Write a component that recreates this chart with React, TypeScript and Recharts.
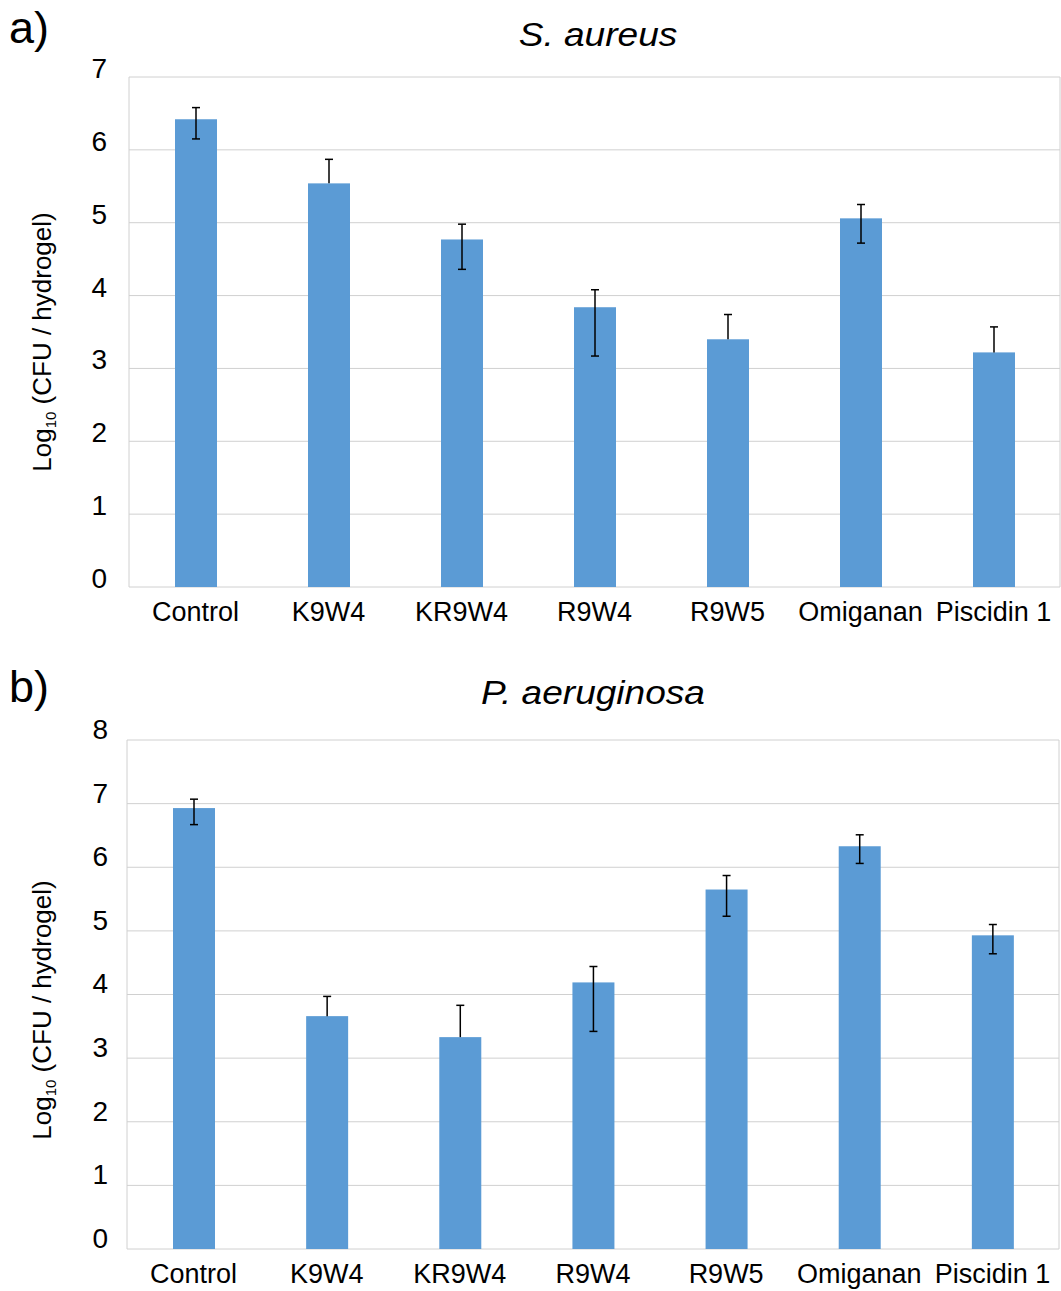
import React from 'react';
import { BarChart, Bar, XAxis, YAxis, CartesianGrid, Label } from 'recharts';

const CATEGORIES = ['Control', 'K9W4', 'KR9W4', 'R9W4', 'R9W5', 'Omiganan', 'Piscidin 1'];

// S. aureus, log10 CFU per hydrogel
const AUREUS_MEAN = [6.42, 5.54, 4.77, 3.84, 3.4, 5.06, 3.22];
const AUREUS_ERR_UP = [0.16, 0.33, 0.21, 0.24, 0.34, 0.19, 0.35];
const AUREUS_ERR_DOWN = [0.27, 0, 0.41, 0.67, 0, 0.34, 0];
const AUREUS_TICKS = [0, 1, 2, 3, 4, 5, 6, 7];

// P. aeruginosa
const AERUG_MEAN = [6.93, 3.66, 3.33, 4.19, 5.65, 6.33, 4.93];
const AERUG_ERR_UP = [0.14, 0.31, 0.5, 0.25, 0.22, 0.18, 0.17];
const AERUG_ERR_DOWN = [0.26, 0, 0, 0.77, 0.42, 0.27, 0.29];
const AERUG_TICKS = [0, 1, 2, 3, 4, 5, 6, 7, 8];

const BLUE = '#5B9BD5';
const GRID = '#d0d0d0';
const FONT = '"Liberation Sans", Arial, sans-serif';

const buildRows = (mean: number[], up: number[], down: number[]) =>
  CATEGORIES.map((name, i) => ({ name, mean: mean[i], up: up[i], down: down[i] }));

// bar rect plus its error whisker, scaled from the bar's own pixel height
const BarWithError = (props: any) => {
  const { x, y, width, height, payload, fill } = props;
  const k = payload.mean ? height / payload.mean : 0;
  const cx = x + width / 2;
  const yTop = y - payload.up * k;
  const yBot = y + payload.down * k;
  const cap = 4;
  return (
    <g>
      <rect x={x} y={y} width={width} height={height} fill={fill} />
      <line x1={cx} x2={cx} y1={yTop} y2={yBot} stroke="#000" strokeWidth={1.5} />
      <line x1={cx - cap} x2={cx + cap} y1={yTop} y2={yTop} stroke="#000" strokeWidth={1.5} />
      {payload.down > 0 && (
        <line x1={cx - cap} x2={cx + cap} y1={yBot} y2={yBot} stroke="#000" strokeWidth={1.5} />
      )}
    </g>
  );
};

const yTitle = (cy: number) => () => (
  <text
    x={51}
    y={cy}
    transform={`rotate(-90 51 ${cy})`}
    textAnchor="middle"
    fontSize={26}
    fill="#000"
    fontFamily={FONT}
  >
    Log
    <tspan fontSize={15} dy={5}>10</tspan>
    <tspan dy={-5}> (CFU / hydrogel)</tspan>
  </text>
);

interface PanelProps {
  data: any[];
  ticks: number[];
  height: number;
  top: number;
  axisW: number;
  xAxisH: number;
  right: number;
  tickDy: number;
  xTickMargin: number;
  yTickMargin: number;
  labelY: number;
}

const Panel = ({ data, ticks, height, top, axisW, xAxisH, right, tickDy, xTickMargin, yTickMargin, labelY }: PanelProps) => (
  <BarChart
    width={1061}
    height={height}
    data={data}
    margin={{ top, right, left: 0, bottom: 0 }}
    style={{ fontFamily: FONT }}
  >
    <CartesianGrid
      stroke={GRID}
      horizontal
      vertical
      verticalCoordinatesGenerator={({ offset }: any) => [offset.left, offset.left + offset.width]}
    />
    <XAxis
      dataKey="name"
      interval={0}
      axisLine={false}
      tickLine={false}
      tickSize={0}
      tickMargin={xTickMargin}
      height={xAxisH}
      tick={{ fontSize: 27, fill: '#000' }}
    />
    <YAxis
      domain={[0, ticks[ticks.length - 1]]}
      ticks={ticks}
      width={axisW}
      axisLine={false}
      tickLine={false}
      tickSize={0}
      tickMargin={yTickMargin}
      tick={{ fontSize: 28, fill: '#000', dy: tickDy }}
    >
      <Label content={yTitle(labelY)} />
    </YAxis>
    <Bar dataKey="mean" fill={BLUE} barSize={42} isAnimationActive={false} shape={BarWithError} />
  </BarChart>
);

export default function App() {
  const aureus = buildRows(AUREUS_MEAN, AUREUS_ERR_UP, AUREUS_ERR_DOWN);
  const aerug = buildRows(AERUG_MEAN, AERUG_ERR_UP, AERUG_ERR_DOWN);

  const titleStyle: React.CSSProperties = {
    position: 'absolute',
    width: 600,
    textAlign: 'center',
    fontSize: 34,
    lineHeight: '34px',
    fontStyle: 'italic',
    fontFamily: FONT,
    color: '#000',
    transform: 'scaleX(1.09)',
    transformOrigin: 'center',
  };
  const letterStyle: React.CSSProperties = {
    position: 'absolute',
    left: 9,
    fontSize: 45,
    lineHeight: '45px',
    fontFamily: FONT,
    color: '#000',
  };

  return (
    <div style={{ position: 'absolute', left: 0, top: 0, width: 1061, height: 1291, background: '#fff', overflow: 'hidden' }}>
      <div style={{ position: 'absolute', left: 0, top: 0 }}>
        <Panel
          data={aureus}
          ticks={AUREUS_TICKS}
          height={640}
          top={77}
          axisW={129}
          xAxisH={53}
          right={1}
          tickDy={-9}
          xTickMargin={15}
          yTickMargin={22}
          labelY={342}
        />
      </div>
      <div style={{ position: 'absolute', left: 0, top: 660 }}>
        <Panel
          data={aerug}
          ticks={AERUG_TICKS}
          height={631}
          top={80}
          axisW={127}
          xAxisH={42}
          right={2}
          tickDy={-11}
          xTickMargin={15}
          yTickMargin={19}
          labelY={350}
        />
      </div>
      <div style={{ ...letterStyle, top: 5 }}>a)</div>
      <div style={{ ...letterStyle, top: 664 }}>b)</div>
      <div style={{ ...titleStyle, left: 298, top: 17 }}>S. aureus</div>
      <div style={{ ...titleStyle, left: 293, top: 675 }}>P. aeruginosa</div>
    </div>
  );
}
